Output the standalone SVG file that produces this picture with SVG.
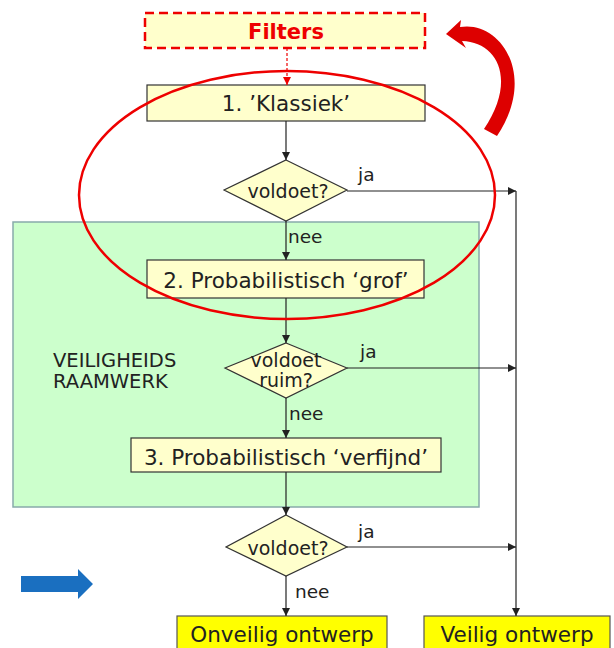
<svg xmlns="http://www.w3.org/2000/svg" width="614" height="648" viewBox="0 0 614 648">
<defs>
<marker id="ah" viewBox="0 0 10 10" refX="10" refY="5" markerWidth="8" markerHeight="8" orient="auto" markerUnits="userSpaceOnUse"><path d="M0,0 L10,5 L0,10 Z" fill="#222"/></marker>
<marker id="ahr" viewBox="0 0 10 10" refX="10" refY="5" markerWidth="8" markerHeight="8" orient="auto" markerUnits="userSpaceOnUse"><path d="M0,0 L10,5 L0,10 Z" fill="#e00"/></marker>
</defs>
<style>
text{font-family:"DejaVu Sans","Liberation Sans",sans-serif;fill:#222}
.box{fill:#ffffcc;stroke:#333;stroke-width:1.2}
.dia{fill:#ffffcc;stroke:#333;stroke-width:1.2}
.out{fill:#ffff00;stroke:#555;stroke-width:1.2}
.t{font-size:21.5px;text-anchor:middle}
.d{font-size:19px;text-anchor:middle}
.s{font-size:18.5px}
.c{fill:none;stroke:#222;stroke-width:1.2}
</style>
<rect x="0" y="0" width="614" height="648" fill="#fff"/>
<g id="raamwerk">
<rect x="13" y="222" width="466" height="285" fill="#ccffcc" stroke="#8aa" stroke-width="1.5"/>
<text x="53" y="367" font-size="19.5">VEILIGHEIDS</text>
<text x="53" y="388" font-size="19.5">RAAMWERK</text>
</g>
<g id="filters">
<rect x="145" y="13" width="280" height="35" fill="#ffffcc" stroke="#e00" stroke-width="2.5" stroke-dasharray="9,5"/>
<text x="286" y="39" text-anchor="middle" font-size="21" font-weight="bold" style="fill:#e00">Filters</text>
</g>
<g id="klassiek">
<rect class="box" x="147" y="85" width="278" height="36"/>
<text class="t" x="286" y="111">1. ’Klassiek’</text>
</g>
<g id="voldoet1">
<polygon class="dia" points="286,160 347,190 286,221 224,190"/>
<text class="d" x="288" y="198">voldoet?</text>
</g>
<g id="grof">
<rect class="box" x="147" y="260" width="277" height="38"/>
<text class="t" x="286" y="288">2. Probabilistisch ‘grof’</text>
</g>
<g id="voldoet2">
<polygon class="dia" points="286,343 347,368 286,398 225,368"/>
<text class="d" x="286" y="367">voldoet</text>
<text class="d" x="286" y="387">ruim?</text>
</g>
<g id="verfijnd">
<rect class="box" x="131" y="438" width="310" height="34"/>
<text class="t" x="286" y="465">3. Probabilistisch ‘verfijnd’</text>
</g>
<g id="voldoet3">
<polygon class="dia" points="286,515 347,547 286,576 226,547"/>
<text class="d" x="288" y="555">voldoet?</text>
</g>
<g id="onveilig">
<rect class="out" x="177" y="616" width="210" height="40"/>
<text class="t" x="282" y="642">Onveilig ontwerp</text>
</g>
<g id="veilig">
<rect class="out" x="424" y="616" width="186" height="40"/>
<text class="t" x="517" y="642">Veilig ontwerp</text>
</g>
<g id="connectors">
<line x1="287" y1="48" x2="287" y2="85" stroke="#e00" stroke-width="1.2" stroke-dasharray="3,2" marker-end="url(#ahr)"/>
<line class="c" x1="286" y1="121" x2="286" y2="160" marker-end="url(#ah)"/>
<line class="c" x1="286" y1="221" x2="286" y2="260" marker-end="url(#ah)"/>
<line class="c" x1="286" y1="298" x2="286" y2="343" marker-end="url(#ah)"/>
<line class="c" x1="286" y1="398" x2="286" y2="438" marker-end="url(#ah)"/>
<line class="c" x1="286" y1="472" x2="286" y2="515" marker-end="url(#ah)"/>
<line class="c" x1="286" y1="576" x2="286" y2="616" marker-end="url(#ah)"/>
<line class="c" x1="347" y1="191" x2="516" y2="191" marker-end="url(#ah)"/>
<line class="c" x1="347" y1="368" x2="516" y2="368" marker-end="url(#ah)"/>
<line class="c" x1="347" y1="547" x2="516" y2="547" marker-end="url(#ah)"/>
<line class="c" x1="516" y1="191" x2="516" y2="616" marker-end="url(#ah)"/>
<text class="s" x="358" y="181">ja</text>
<text class="s" x="360" y="358">ja</text>
<text class="s" x="358" y="538">ja</text>
<text class="s" x="288" y="243">nee</text>
<text class="s" x="289" y="420">nee</text>
<text class="s" x="295" y="598">nee</text>
</g>
<g id="highlight">
<ellipse cx="287" cy="195" rx="208" ry="124" fill="none" stroke="#e00" stroke-width="2.5"/>
<path d="M446,34 L461,20 L460,27 C500,20 538,75 497,136 L484,129 C517,80 498,42 462,41 L466,48 Z" fill="#dd0000"/>
<path d="M21,576 L78,576 L78,569 L93,584 L78,599 L78,592 L21,592 Z" fill="#1a6fc0"/>
</g>
</svg>
